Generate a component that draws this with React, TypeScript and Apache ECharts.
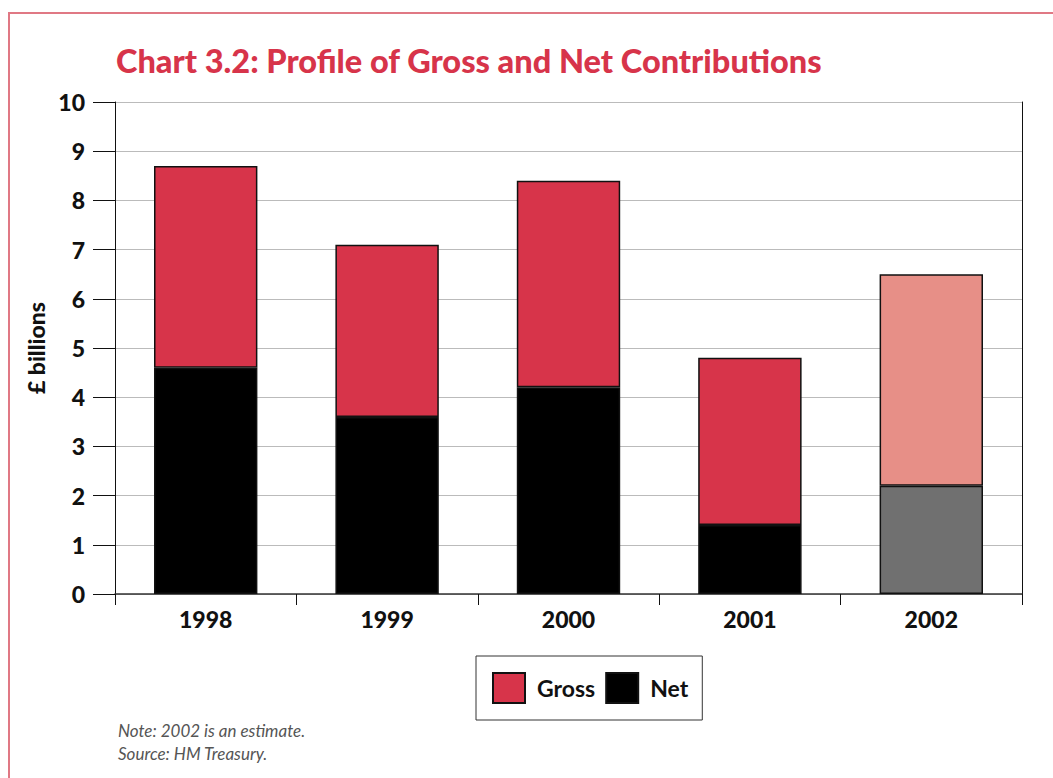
import React, { useEffect, useRef } from "react";
import * as echarts from "echarts";

const years = ["1998", "1999", "2000", "2001", "2002"];
const gross = [8.7, 7.1, 8.4, 4.8, 6.5];
const net = [4.6, 3.6, 4.2, 1.4, 2.2];
const estimateYear = "2002";
const yTicks = [0, 1, 2, 3, 4, 5, 6, 7, 8, 9, 10];

const RED = "#D7344A";
const RED_EST = "#E78F87";
const BLACK = "#000000";
const GREY_EST = "#707070";
const FONT = "Lato, 'Open Sans', sans-serif";

export default function App() {
  const ref = useRef<HTMLDivElement>(null);
  useEffect(() => {
    document.body.style.margin = "0";
    const chart = echarts.init(ref.current!, null, { renderer: "svg" });
    const netData = net.map((v, i) => ({
      value: v,
      itemStyle: { color: years[i] === estimateYear ? GREY_EST : BLACK },
    }));
    const grossData = gross.map((g, i) => ({
      value: +(g - net[i]).toFixed(2),
      itemStyle: { color: years[i] === estimateYear ? RED_EST : RED },
    }));
    chart.setOption({
      animation: false,
      backgroundColor: "#ffffff",
      textStyle: { fontFamily: FONT },
      title: {
        text: "Chart 3.2: Profile of Gross and Net Contributions",
        left: 111,
        top: 39,
        textStyle: { color: RED, fontSize: 32.5, fontWeight: 900, fontFamily: FONT },
      },
      grid: { left: 115, right: 31, top: 102, bottom: 184 },
      legend: {
        data: [
          { name: "Gross", itemStyle: { color: RED } },
          { name: "Net", itemStyle: { color: BLACK } },
        ],
        left: 476,
        top: 656,
        orient: "horizontal",
        icon: "rect",
        itemWidth: 32,
        itemHeight: 30,
        itemGap: 10,
        padding: [16, 14, 16, 16],
        borderColor: "#333",
        borderWidth: 1,
        selectedMode: false,
        textStyle: {
          fontSize: 23,
          fontWeight: "bold",
          color: "#111",
          fontFamily: FONT,
          padding: [0, 0, 0, 7],
        },
      },
      xAxis: {
        type: "category",
        data: years,
        axisLine: { lineStyle: { color: "#333", width: 1.5 } },
        axisTick: { show: true, length: 11, interval: 0, lineStyle: { color: "#111" } },
        axisLabel: { fontSize: 23, fontWeight: 900, color: "#111", margin: 13, fontFamily: FONT },
      },
      yAxis: [
        {
          type: "value",
          min: 0,
          max: 10,
          interval: 1,
          name: "£ billions",
          nameLocation: "middle",
          nameGap: 60,
          nameRotate: 90,
          nameTextStyle: { fontSize: 23, fontWeight: 900, color: "#111", fontFamily: FONT },
          axisLine: { show: true, lineStyle: { color: "#111" } },
          axisTick: { show: true, length: 22, lineStyle: { color: "#111" } },
          axisLabel: {
            fontSize: 23,
            fontWeight: 900,
            color: "#111",
            margin: 30,
            fontFamily: FONT,
            formatter: (v: number) => (yTicks.includes(v) ? String(v) : ""),
          },
          splitLine: { show: true, lineStyle: { color: "#bbbbbb", width: 1 } },
        },
        {
          type: "value",
          position: "right",
          min: 0,
          max: 10,
          interval: 1,
          axisLine: { show: true, lineStyle: { color: "#111" } },
          axisTick: { show: false },
          axisLabel: { show: false },
          splitLine: { show: false },
        },
      ],
      series: [
        {
          name: "Net",
          type: "bar",
          stack: "total",
          barWidth: "57%",
          data: netData,
          itemStyle: { borderColor: "#111", borderWidth: 1.5, color: BLACK },
        },
        {
          name: "Gross",
          type: "bar",
          stack: "total",
          barWidth: "57%",
          data: grossData,
          itemStyle: { borderColor: "#111", borderWidth: 1.5, color: RED },
        },
      ],
      graphic: [
        {
          type: "rect",
          shape: { x: 9, y: 13, width: 1100, height: 900 },
          style: { fill: "none", stroke: "#E07884", lineWidth: 2 },
          silent: true,
        },
        {
          type: "text",
          x: 118,
          y: 722,
          style: {
            text: "Note: 2002 is an estimate.",
            font: `italic 17px ${FONT}`,
            fill: "#555",
          },
        },
        {
          type: "text",
          x: 118,
          y: 745,
          style: {
            text: "Source: HM Treasury.",
            font: `italic 17px ${FONT}`,
            fill: "#555",
          },
        },
      ],
    });
    return () => chart.dispose();
  }, []);
  return <div ref={ref} style={{ width: 1053, height: 778 }} />;
}
